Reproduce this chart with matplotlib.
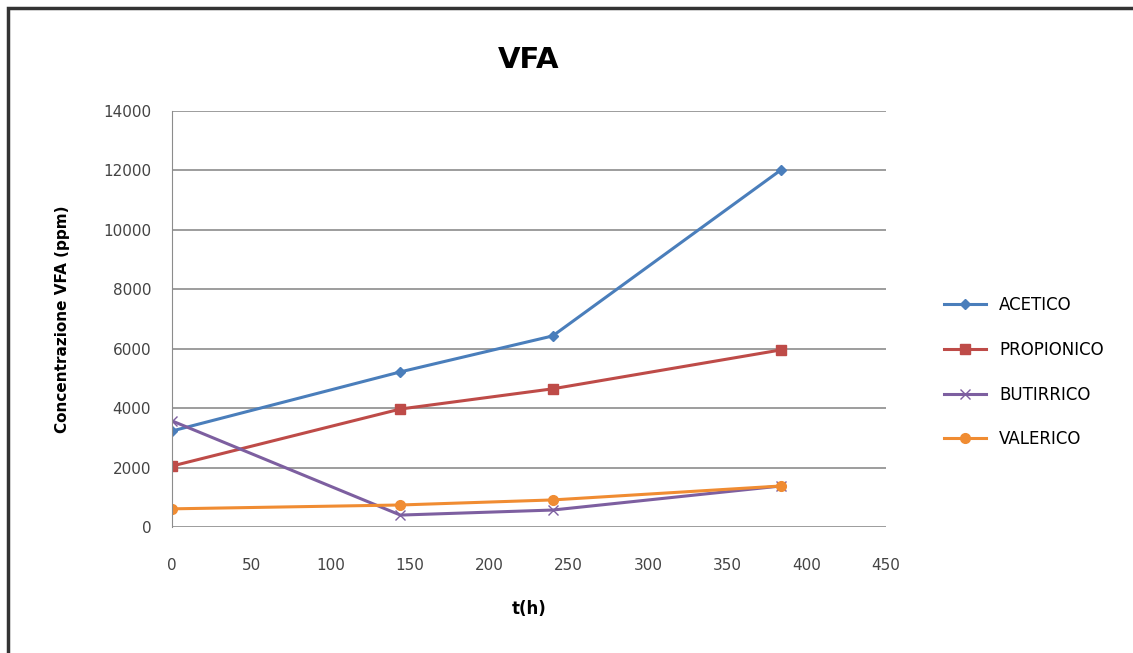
import matplotlib.pyplot as plt
from matplotlib.patches import Rectangle

t = [0, 144, 240, 384]
acetico = [3230, 5220, 6430, 12020]
propionico = [2050, 3970, 4650, 5960]
butirrico = [3570, 400, 570, 1380]
valerico = [610, 740, 910, 1380]

fig = plt.figure(figsize=(11.33, 6.53), dpi=100)
ax = fig.add_axes([0.1518, 0.193, 0.630, 0.637])

# outer chart border
fig.patches.append(Rectangle((8 / 1133, -0.02), 1.05, 1 - 8 / 653 + 0.02,
                             transform=fig.transFigure, fill=False,
                             edgecolor='#333333', linewidth=2.5))

ax.plot(t, acetico, '-D', color='#4a7ebb', lw=2.2, ms=5, label='ACETICO')
ax.plot(t, propionico, '-s', color='#be4b48', lw=2.2, ms=7, label='PROPIONICO')
ax.plot(t, butirrico, '-x', color='#7d5fa0', lw=2.2, ms=7, mew=1.0, label='BUTIRRICO')
ax.plot(t, valerico, '-o', color='#f08c32', lw=2.2, ms=7, label='VALERICO')

ax.set_xlim(0, 450)
ax.set_ylim(0, 14000)
ax.set_xticks(range(0, 451, 50))
ax.set_yticks(range(0, 14001, 2000))
ax.grid(axis='y', color='#8c8c8c', lw=1.2)
ax.set_axisbelow(True)
for s in ['top', 'right', 'bottom']:
    ax.spines[s].set_visible(False)
ax.spines['left'].set_color('#8c8c8c')
ax.tick_params(axis='both', length=0, labelsize=11, colors='#444444')
ax.tick_params(axis='x', pad=22)
ax.tick_params(axis='y', pad=15)

ax.set_title('VFA', fontsize=21, fontweight='bold', pad=31)
ax.set_xlabel('t(h)', fontsize=12, fontweight='bold', labelpad=20)
ax.set_ylabel('Concentrazione VFA (ppm)', fontsize=11, fontweight='bold', labelpad=24)

fig.legend(loc='center left', bbox_to_anchor=(0.82, 0.43), frameon=False,
           fontsize=12, labelspacing=1.6, handlelength=2.5)

fig.savefig('out.png')
